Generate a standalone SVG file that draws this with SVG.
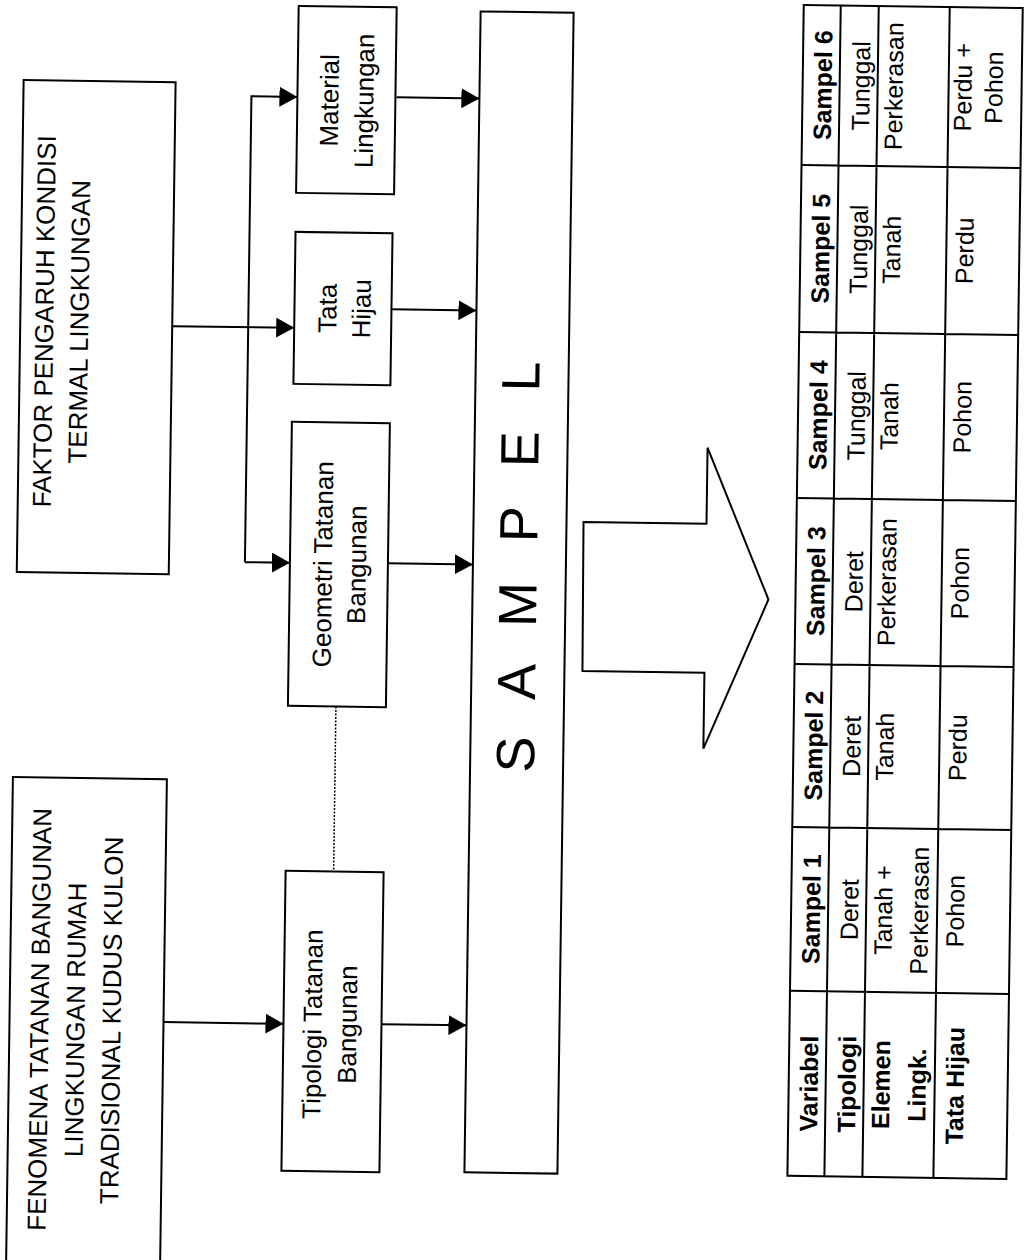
<svg xmlns="http://www.w3.org/2000/svg" width="1032" height="1260" viewBox="0 0 1032 1260">
<style>
.box{fill:#fff;stroke:#000;stroke-width:2}
.t{font-family:"Liberation Sans",Arial,sans-serif;font-size:26px;fill:#000;text-anchor:middle}
.tt{font-family:"Liberation Sans",Arial,sans-serif;font-size:25px;fill:#000;text-anchor:middle}
.b{font-weight:bold}
.conn{stroke:#000;stroke-width:2;fill:none}
.grid{stroke:#000;stroke-width:2;fill:none}
</style>
<defs>
<marker id="ah" markerUnits="userSpaceOnUse" markerWidth="20" markerHeight="20" refX="18" refY="10" orient="auto">
<path d="M0,0 L18,10 L0,20 Z" fill="#000"/>
</marker>
</defs>
<rect x="0" y="0" width="1032" height="1260" fill="#fff"/>
<g transform="rotate(0.8 516 630)">
<g id="connectors">
<path class="conn" d="M169,1027 H289" marker-end="url(#ah)"/>
<path class="conn" d="M387,1026 H472" marker-end="url(#ah)"/>
<path class="conn" d="M168,331 H290" marker-end="url(#ah)"/>
<path class="conn" d="M244,566 V100 H290" marker-end="url(#ah)"/>
<path class="conn" d="M244,566 H289" marker-end="url(#ah)"/>
<path class="conn" d="M389,99 H472" marker-end="url(#ah)"/>
<path class="conn" d="M386,311 H472" marker-end="url(#ah)"/>
<path class="conn" d="M387,565 H472" marker-end="url(#ah)"/>
<path d="M337,709 V874" stroke="#000" stroke-width="1.5" stroke-dasharray="2,1.5" fill="none"/>
</g>
<g id="faktor">
<rect class="box" x="16" y="87" width="152" height="492"/>
<text class="t" transform="rotate(-90)"><tspan x="-328" y="49">FAKTOR PENGARUH KONDISI</tspan><tspan x="-328" y="84">TERMAL LINGKUNGAN</tspan></text>
</g>
<g id="fenomena">
<rect class="box" x="15" y="784" width="154" height="540"/>
<text class="t" transform="rotate(-90)"><tspan x="-1026" y="54">FENOMENA TATANAN BANGUNAN</tspan><tspan x="-1026" y="90">LINGKUNGAN RUMAH</tspan><tspan x="-1026" y="126">TRADISIONAL KUDUS KULON</tspan></text>
</g>
<g id="material">
<rect class="box" x="290" y="9" width="98" height="187"/>
<text class="t" transform="rotate(-90)"><tspan x="-103" y="331">Material</tspan><tspan x="-103" y="366">Lingkungan</tspan></text>
</g>
<g id="tatahijau">
<rect class="box" x="290" y="235" width="97" height="152"/>
<text class="t" transform="rotate(-90)"><tspan x="-311" y="332">Tata</tspan><tspan x="-311" y="366">Hijau</tspan></text>
</g>
<g id="geometri">
<rect class="box" x="289" y="425" width="98" height="284"/>
<text class="t" transform="rotate(-90)"><tspan x="-567" y="331">Geometri Tatanan</tspan><tspan x="-567" y="365">Bangunan</tspan></text>
</g>
<g id="tipologi">
<rect class="box" x="289" y="874" width="98" height="300"/>
<text class="t" transform="rotate(-90)"><tspan x="-1027" y="327">Tipologi Tatanan</tspan><tspan x="-1027" y="362">Bangunan</tspan></text>
</g>
<g id="sampel">
<rect class="box" x="472" y="12" width="93" height="1161"/>
<text transform="rotate(-90)" x="-567" y="536" font-family="Liberation Sans, Arial, sans-serif" font-size="54" text-anchor="middle" textLength="411" lengthAdjust="spacing">S A M P E L</text>
</g>
<g id="bigarrow">
<path d="M582,521 L705,521 L705,445 L768,596 L705,746 L705,670 L583,670 Z" fill="#fff" stroke="#000" stroke-width="2" stroke-linejoin="miter"/>
</g>
<g id="table">
<rect class="grid" x="795" y="1" width="219" height="1171"/>
<path class="grid" d="M832,1 V1172 M870,1 V1172 M941,1 V1172 M795,161 H1014 M795,328 H1014 M795,494 H1014 M795,660 H1014 M795,823 H1014 M795,987 H1014"/>
<g transform="rotate(-90)">
<text class="tt b" x="-81" y="824">Sampel 6</text>
<text class="tt b" x="-244.5" y="824">Sampel 5</text>
<text class="tt b" x="-411" y="824">Sampel 4</text>
<text class="tt b" x="-577" y="824">Sampel 3</text>
<text class="tt b" x="-741.5" y="824">Sampel 2</text>
<text class="tt b" x="-905" y="824">Sampel 1</text>
<text class="tt b" x="-1079.5" y="824">Variabel</text>
<text class="tt" x="-81" y="862">Tunggal</text>
<text class="tt" x="-244.5" y="862">Tunggal</text>
<text class="tt" x="-411" y="862">Tunggal</text>
<text class="tt" x="-577" y="862">Deret</text>
<text class="tt" x="-741.5" y="862">Deret</text>
<text class="tt" x="-905" y="862">Deret</text>
<text class="tt b" x="-1079.5" y="862">Tipologi</text>
<text class="tt" x="-81" y="895">Perkerasan</text>
<text class="tt" x="-244.5" y="895">Tanah</text>
<text class="tt" x="-411" y="895">Tanah</text>
<text class="tt" x="-577" y="895">Perkerasan</text>
<text class="tt" x="-741.5" y="895">Tanah</text>
<text class="tt"><tspan x="-905" y="896">Tanah +</tspan><tspan x="-905" y="932">Perkerasan</tspan></text>
<text class="tt b"><tspan x="-1079.5" y="896">Elemen</tspan><tspan x="-1079.5" y="932">Lingk.</tspan></text>
<text class="tt"><tspan x="-81" y="964">Perdu +</tspan><tspan x="-81" y="995">Pohon</tspan></text>
<text class="tt" x="-244.5" y="968">Perdu</text>
<text class="tt" x="-411" y="968">Pohon</text>
<text class="tt" x="-577" y="968">Pohon</text>
<text class="tt" x="-741.5" y="968">Perdu</text>
<text class="tt" x="-905" y="968">Pohon</text>
<text class="tt b" x="-1079.5" y="970">Tata Hijau</text>
</g>
</g>
</g>
</svg>
